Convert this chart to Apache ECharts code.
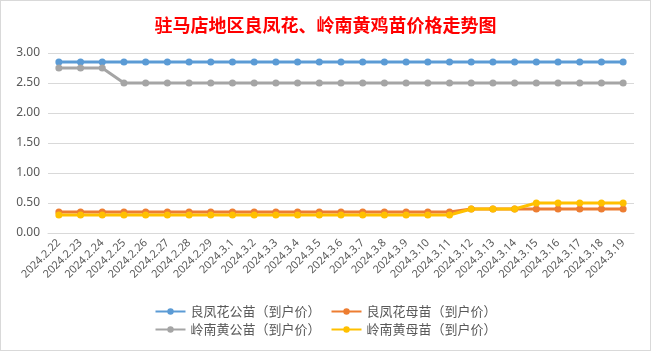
<!DOCTYPE html>
<html>
<head>
<meta charset="utf-8">
<script src="https://cdn.jsdelivr.net/npm/echarts@6/dist/echarts.min.js"></script>
<style>
  html, body { margin: 0; padding: 0; background: #fff; }
  #main { width: 651px; height: 351px; box-sizing: border-box; border: 1px solid #d9d9d9; }
</style>
</head>
<body>
<div id="main"></div>
<script>
var dates = ['2024.2.22', '2024.2.23', '2024.2.24', '2024.2.25', '2024.2.26', '2024.2.27', '2024.2.28', '2024.2.29',
  '2024.3.1', '2024.3.2', '2024.3.3', '2024.3.4', '2024.3.5', '2024.3.6', '2024.3.7', '2024.3.8', '2024.3.9',
  '2024.3.10', '2024.3.11', '2024.3.12', '2024.3.13', '2024.3.14', '2024.3.15', '2024.3.16', '2024.3.17',
  '2024.3.18', '2024.3.19']

var lfhMale = [2.85, 2.85, 2.85, 2.85, 2.85, 2.85, 2.85, 2.85, 2.85, 2.85, 2.85, 2.85, 2.85, 2.85,
  2.85, 2.85, 2.85, 2.85, 2.85, 2.85, 2.85, 2.85, 2.85, 2.85, 2.85, 2.85, 2.85]
var lfhFemale = [0.35, 0.35, 0.35, 0.35, 0.35, 0.35, 0.35, 0.35, 0.35, 0.35, 0.35, 0.35, 0.35, 0.35,
  0.35, 0.35, 0.35, 0.35, 0.35, 0.40, 0.40, 0.40, 0.40, 0.40, 0.40, 0.40, 0.40]
var lnhMale = [2.75, 2.75, 2.75, 2.50, 2.50, 2.50, 2.50, 2.50, 2.50, 2.50, 2.50, 2.50, 2.50, 2.50,
  2.50, 2.50, 2.50, 2.50, 2.50, 2.50, 2.50, 2.50, 2.50, 2.50, 2.50, 2.50, 2.50]
var lnhFemale = [0.30, 0.30, 0.30, 0.30, 0.30, 0.30, 0.30, 0.30, 0.30, 0.30, 0.30, 0.30, 0.30, 0.30,
  0.30, 0.30, 0.30, 0.30, 0.30, 0.40, 0.40, 0.40, 0.50, 0.50, 0.50, 0.50, 0.50]

var names = ['良凤花公苗（到户价）', '良凤花母苗（到户价）', '岭南黄公苗（到户价）', '岭南黄母苗（到户价）']
var colors = ['#5b9bd5', '#ed7d31', '#a5a5a5', '#ffc000']

function line(name, data, color) {
  return {
    name: name,
    type: 'line',
    data: data,
    symbol: 'circle',
    symbolSize: 7,
    lineStyle: { color: color, width: 3 },
    itemStyle: { color: color },
    animation: false
  }
}

var myChart = echarts.init(document.getElementById('main'))
var legendText = { color: '#595959', fontSize: 13, fontFamily: 'Noto Sans CJK SC' }
myChart.setOption({
  title: {
    text: '驻马店地区良凤花、岭南黄鸡苗价格走势图',
    left: 'center',
    top: 10,
    textStyle: { color: '#ff0000', fontSize: 18, fontWeight: 'bold', fontFamily: 'Noto Sans CJK SC' }
  },
  legend: [{
    data: [names[0], names[1]],
    top: 299,
    left: 'center',
    itemWidth: 30,
    itemHeight: 8,
    itemGap: 10,
    textStyle: legendText
  }, {
    data: [names[2], names[3]],
    top: 317,
    left: 'center',
    itemWidth: 30,
    itemHeight: 8,
    itemGap: 10,
    textStyle: legendText
  }],
  grid: { left: 47, right: 16, top: 52, bottom: 117 },
  xAxis: {
    type: 'category',
    data: dates,
    boundaryGap: true,
    axisLine: { lineStyle: { color: '#d9d9d9' } },
    axisTick: { show: false },
    axisLabel: { rotate: 45, interval: 0, color: '#595959', fontSize: 11, fontFamily: 'Noto Sans', margin: 8 }
  },
  yAxis: {
    type: 'value',
    min: 0,
    max: 3,
    interval: 0.5,
    axisLine: { show: false },
    axisTick: { show: false },
    splitLine: { lineStyle: { color: '#d9d9d9' } },
    axisLabel: {
      color: '#595959', fontSize: 12, fontFamily: 'Noto Sans', margin: 8,
      formatter: function (v) { return v.toFixed(2) }
    }
  },
  series: [
    line(names[0], lfhMale, colors[0]),
    line(names[1], lfhFemale, colors[1]),
    line(names[2], lnhMale, colors[2]),
    line(names[3], lnhFemale, colors[3])
  ]
})
</script>
</body>
</html>
